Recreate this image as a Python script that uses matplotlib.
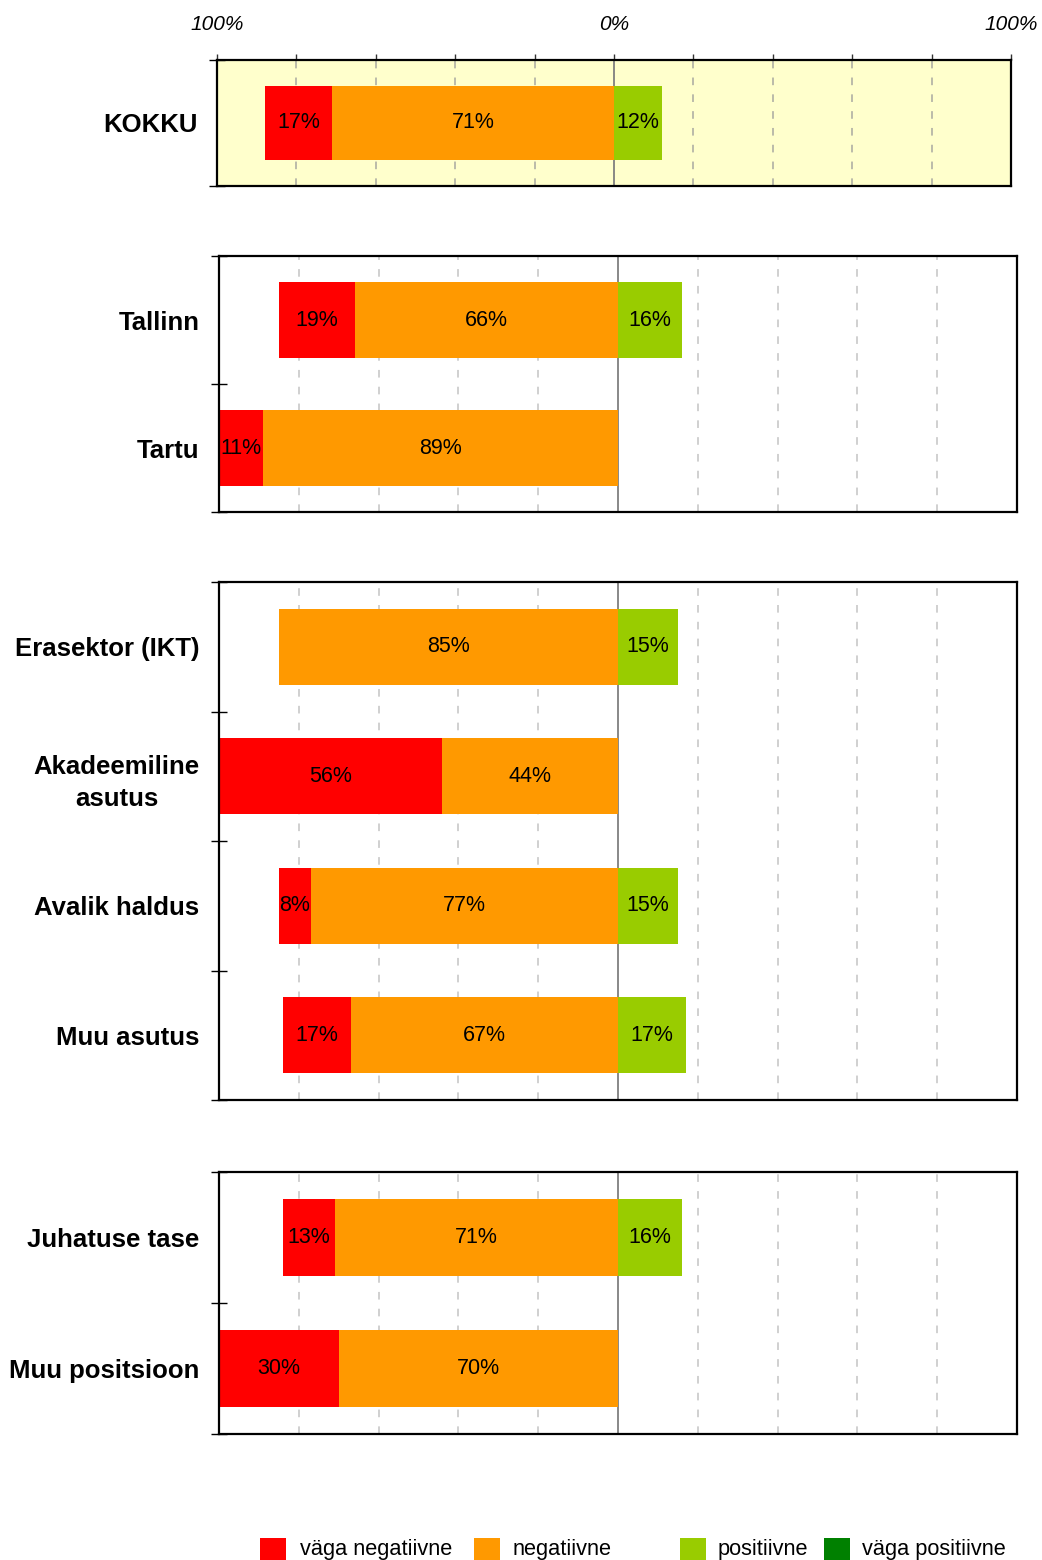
import matplotlib
matplotlib.use('Agg')
import matplotlib.pyplot as plt
from matplotlib.patches import Rectangle
import numpy as np

plt.rcParams['font.family'] = ['Liberation Sans', 'DejaVu Sans']

# ---------------- data ----------------
categories = ["KOKKU", "Tallinn", "Tartu", "Erasektor (IKT)", "Akadeemiline\nasutus",
              "Avalik haldus", "Muu asutus", "Juhatuse tase", "Muu positsioon"]
panel_of = [0, 1, 1, 2, 2, 2, 2, 3, 3]
very_neg = [17, 19, 11, 0, 56, 8, 17, 13, 30]
neg = [71, 66, 89, 85, 44, 77, 67, 71, 70]
pos = [12, 16, 0, 15, 0, 15, 17, 16, 0]
very_pos = [0, 0, 0, 0, 0, 0, 0, 0, 0]
legend_labels = ["väga negatiivne", "negatiivne", "positiivne", "väga positiivne"]
top_tick_values = [-100, 0, 100]
top_tick_labels = ["100%", "0%", "100%"]
grid_values = [-80, -60, -40, -20, 20, 40, 60, 80]

# ---------------- style ----------------
C_VNEG = '#FF0000'
C_NEG = '#FF9900'
C_POS = '#99CC00'
C_VPOS = '#008000'
colors = [C_VNEG, C_NEG, C_POS, C_VPOS]

W, H = 1042, 1560
fig = plt.figure(figsize=(W / 100, H / 100), dpi=100)

# panel boxes in pixels: (left, top, right, bottom)
panel_px = [(217, 60, 1011, 186), (219, 256, 1017, 512),
            (219, 582, 1017, 1100), (219, 1172, 1017, 1434)]

bar_h = 0.59

for p, (l, t, r, b) in enumerate(panel_px):
    ax = fig.add_axes([l / W, 1 - b / H, (r - l) / W, (b - t) / H])
    idx = [i for i, q in enumerate(panel_of) if q == p]
    n = len(idx)
    ys = np.arange(n)
    vn = np.array([very_neg[i] for i in idx])
    ng = np.array([neg[i] for i in idx])
    ps = np.array([pos[i] for i in idx])
    vp = np.array([very_pos[i] for i in idx])

    if p == 0:
        ax.set_facecolor('#FFFFCC')
        gcol = '#A8A8A0'
    else:
        gcol = '#C4C4C4'

    for g in grid_values:
        ax.axvline(g, color=gcol, lw=1.1, ls=(0, (5, 6)), zorder=0)
    ax.axvline(0, color='#7F7F7F', lw=1.3, zorder=0.5)

    segs = [(-(ng + vn), vn, C_VNEG), (-ng, ng, C_NEG), (np.zeros(n), ps, C_POS), (ps, vp, C_VPOS)]
    for left, width, col in segs:
        ax.barh(ys, width, left=left, height=bar_h, color=col, zorder=2)
        for yy, lft, wd in zip(ys, left, width):
            if wd > 0:
                ax.text(lft + wd / 2, yy, f"{wd:.0f}%", ha='center', va='center',
                        fontsize=15.5, color='black', zorder=3)

    ax.set_xlim(-100, 100)
    ax.set_ylim(n - 0.5, -0.5)

    # category labels as minor ticks, boundaries as major ticks
    ax.set_yticks(np.arange(n + 1) - 0.5)
    ax.set_yticklabels([])
    ax.set_yticks(ys, minor=True)
    ax.set_yticklabels([categories[i] for i in idx], minor=True,
                       fontsize=18.5, fontweight='bold')
    for lbl in ax.get_yticklabels(minor=True):
        lbl.set_multialignment('center')
        lbl.set_linespacing(1.45)
    ax.tick_params(axis='y', which='major', direction='inout', length=11.5, width=1.0, color='black')
    ax.tick_params(axis='y', which='minor', length=0, pad=14)

    if p == 0:
        xt = np.arange(-100, 101, 20)
        labs = [top_tick_labels[top_tick_values.index(v)] if v in top_tick_values else ''
                for v in xt]
        ax.set_xticks(xt)
        ax.set_xticklabels(labs, fontsize=15, fontstyle='italic')
        ax.tick_params(axis='x', which='major', direction='out', length=4, width=1.0,
                       color='#333333', top=True, bottom=False, labeltop=True,
                       labelbottom=False, pad=15)
    else:
        ax.set_xticks([])

    for s in ax.spines.values():
        s.set_linewidth(1.6)
        s.set_color('black')

# ---------------- legend ----------------
sq_x = [260, 474, 680, 824]
tx_x = [300, 513, 718, 862]
for sx, tx, col, lab in zip(sq_x, tx_x, colors, legend_labels):
    fig.patches.append(Rectangle((sx / W, 1 - 1560 / H), 26 / W, 22 / H,
                                 transform=fig.transFigure, facecolor=col, edgecolor='none'))
    fig.text(tx / W, 1 - 1549 / H, lab, ha='left', va='center', fontsize=15.7)

fig.savefig('out.png', dpi=100)
